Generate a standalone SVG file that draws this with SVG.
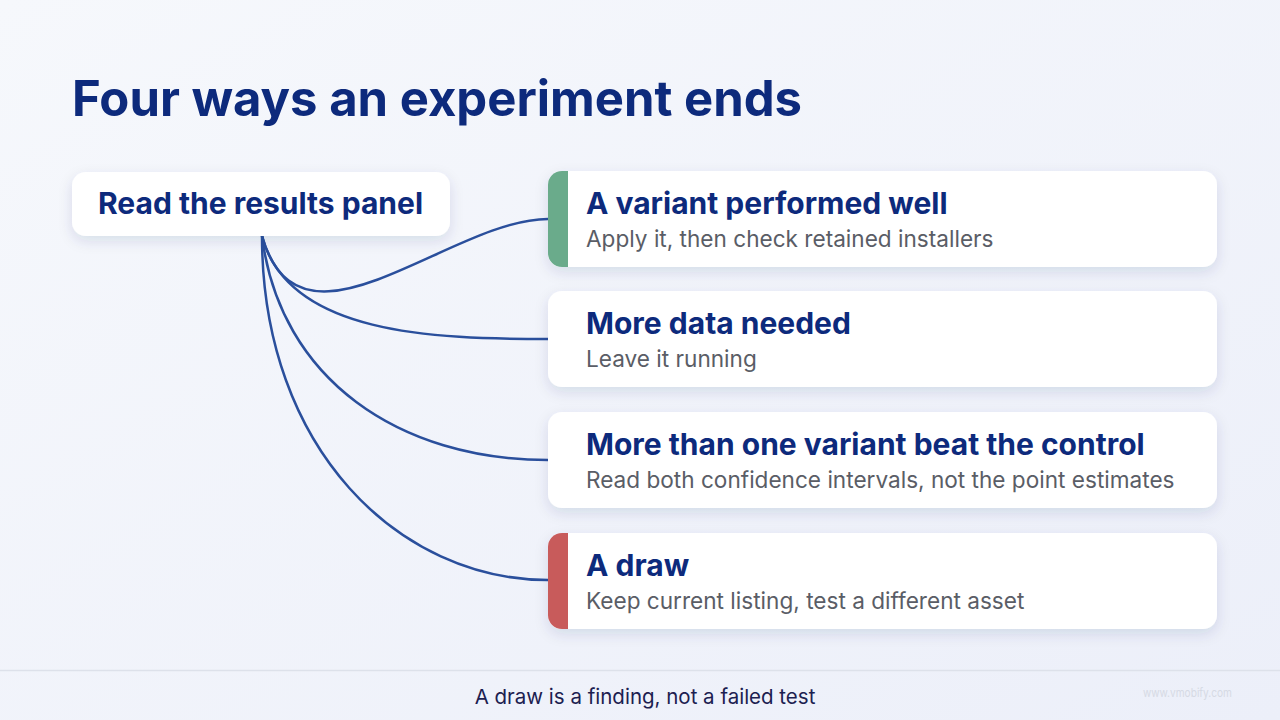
<svg xmlns="http://www.w3.org/2000/svg" width="1280" height="720" viewBox="0 0 1280 720">
<defs>
<linearGradient id="bg" x1="0" y1="0" x2="1" y2="1">
<stop offset="0" stop-color="#f6f8fc"/>
<stop offset="1" stop-color="#eceff9"/>
</linearGradient>
<filter id="sh" x="-10%" y="-30%" width="120%" height="170%">
<feDropShadow dx="0" dy="5" stdDeviation="7" flood-color="#1a2a66" flood-opacity="0.12"/>
</filter>
<clipPath id="c1"><rect x="548" y="171" width="669" height="96" rx="14"/></clipPath>
<clipPath id="c4"><rect x="548" y="533" width="669" height="96" rx="14"/></clipPath>
</defs>
<style>
.title{font-family:Inter,"Liberation Sans",sans-serif;font-weight:700;font-size:49px;fill:#0d2a7c}
.root{font-family:Inter,"Liberation Sans",sans-serif;font-weight:700;font-size:30px;fill:#0d2a7c}
.ct{font-family:Inter,"Liberation Sans",sans-serif;font-weight:700;font-size:30px;fill:#0d2a7c}
.cs{font-family:Inter,"Liberation Sans",sans-serif;font-weight:400;font-size:22.6px;fill:#5a5d66}
.card{fill:#ffffff;filter:url(#sh)}
.edge{fill:none;stroke:#2a4f9c;stroke-width:2.5}
.foot{font-family:Inter,"Liberation Sans",sans-serif;font-size:20.5px;fill:#1c2050}
</style>
<rect width="1280" height="720" fill="url(#bg)"/>
<text class="title" x="72" y="116">Four ways an experiment ends</text>
<g id="connectors">
<path class="edge" d="M262,236 C300,370 450,219 548,219"/>
<path class="edge" d="M262,236 C288,335 435,339 548,339"/>
<path class="edge" d="M262,236 C280,380 400,460 548,460"/>
<path class="edge" d="M262,236 C262,450 400,580 548,580"/>
</g>
<g id="root">
<rect class="card" x="72" y="172" width="378" height="64" rx="14"/>
<text class="root" x="98" y="214">Read the results panel</text>
</g>
<g id="card1">
<rect class="card" x="548" y="171" width="669" height="96" rx="14"/>
<rect x="548" y="171" width="20" height="96" fill="#6aab8b" clip-path="url(#c1)"/>
<text class="ct" x="586" y="214">A variant performed well</text>
<text class="cs" x="586" y="247">Apply it, then check retained installers</text>
</g>
<g id="card2">
<rect class="card" x="548" y="291" width="669" height="96" rx="14"/>
<text class="ct" x="586" y="334">More data needed</text>
<text class="cs" x="586" y="367">Leave it running</text>
</g>
<g id="card3">
<rect class="card" x="548" y="412" width="669" height="96" rx="14"/>
<text class="ct" x="586" y="455">More than one variant beat the control</text>
<text class="cs" x="586" y="488">Read both confidence intervals, not the point estimates</text>
</g>
<g id="card4">
<rect class="card" x="548" y="533" width="669" height="96" rx="14"/>
<rect x="548" y="533" width="20" height="96" fill="#c85b5b" clip-path="url(#c4)"/>
<text class="ct" x="586" y="576">A draw</text>
<text class="cs" x="586" y="609">Keep current listing, test a different asset</text>
</g>
<line x1="0" y1="670.5" x2="1280" y2="670.5" stroke="#dde1ea" stroke-width="1.5"/>
<text class="foot" x="645" y="704" text-anchor="middle">A draw is a finding, not a failed test</text>
<text x="1143" y="697" textLength="89" lengthAdjust="spacingAndGlyphs" font-family="Inter,'Liberation Sans',sans-serif" font-size="12" fill="#d6dae4">www.vmobify.com</text>
</svg>
